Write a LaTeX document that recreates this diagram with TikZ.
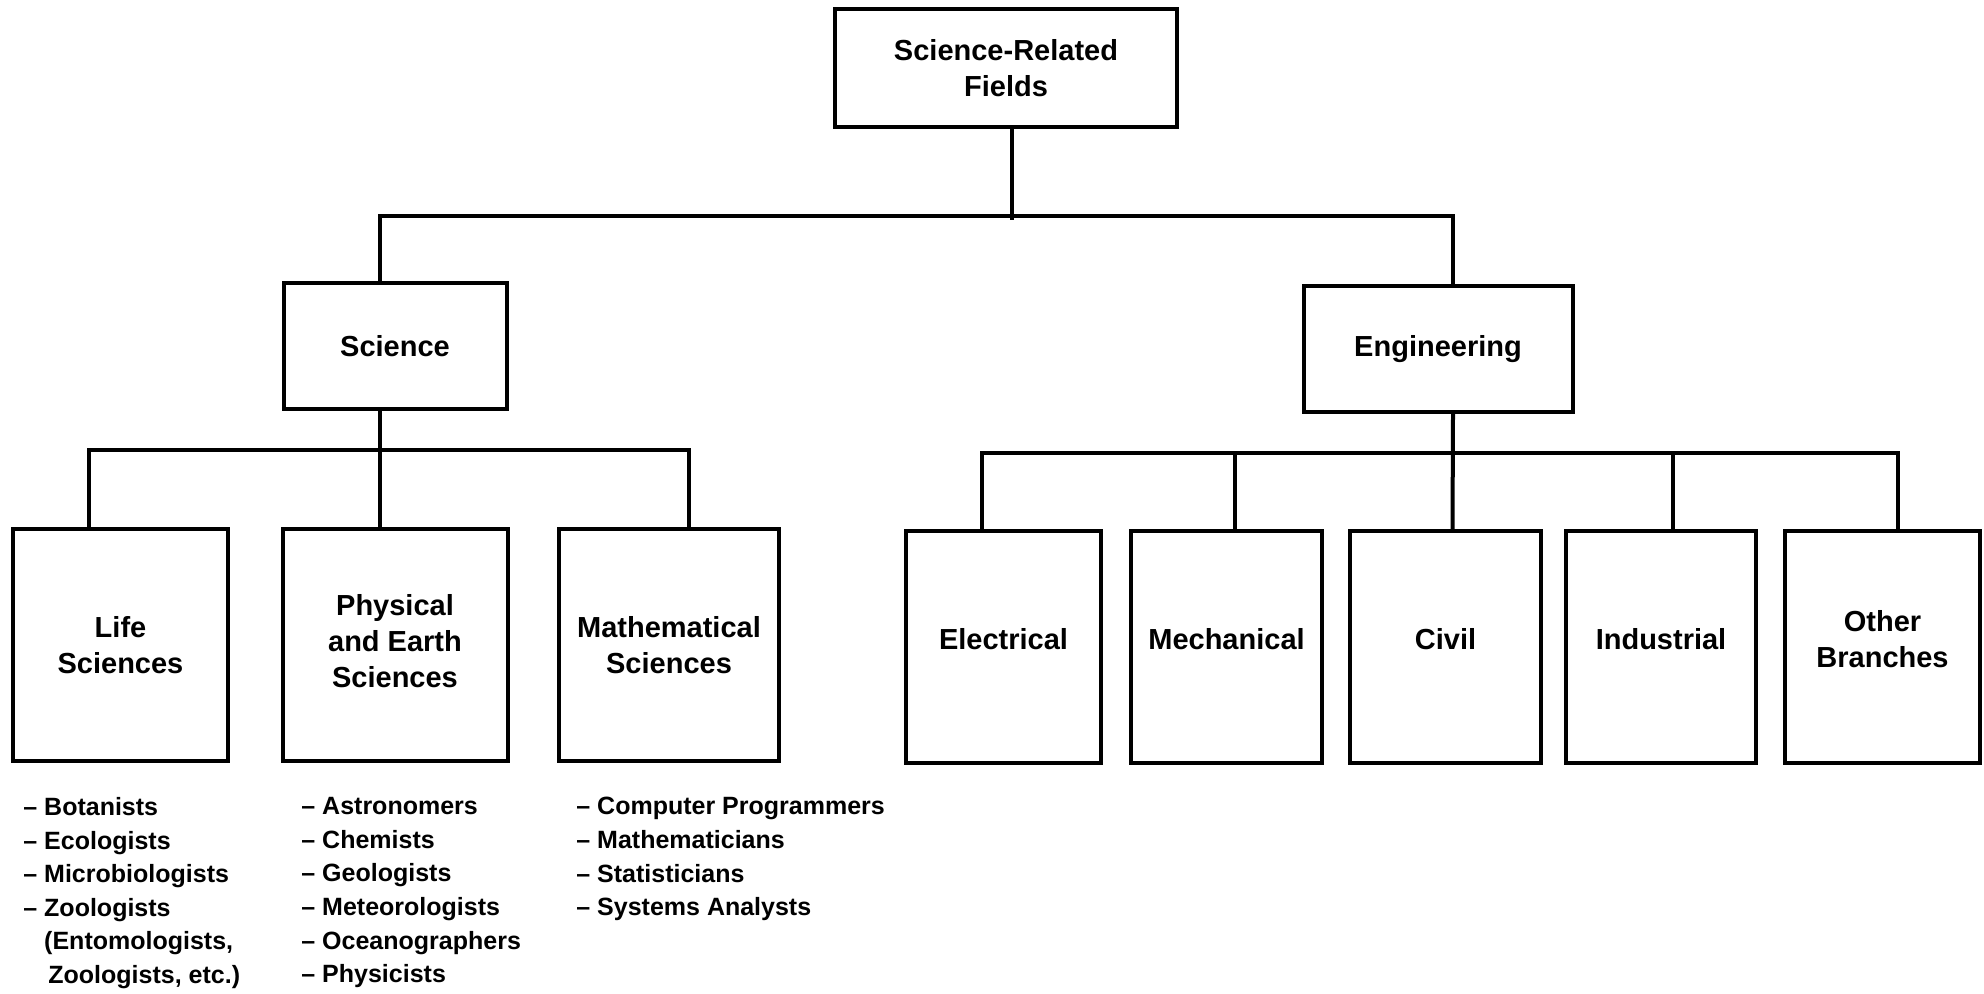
\documentclass[tikz,border=0pt]{standalone}
\usepackage{fontspec}
\setmainfont{Liberation Sans}
\newcommand{\jobdash}{\textendash\ }
\begin{document}
\begin{tikzpicture}[x=0.5pt,y=-0.5pt,
  box/.style={draw,line width=2pt,align=center,inner sep=0pt,font=\bfseries\fontsize{14.5}{18}\selectfont},
  field/.style={box,minimum height=116pt},
  branch/.style={field,text depth=8pt},
  joblist/.style={anchor=north west,align=left,inner sep=0pt,font=\bfseries\fontsize{12.5}{16.8}\selectfont},
  link/.style={line width=2pt}]
\useasboundingbox (0,0) rectangle (1984,994);
% top levels
\node[box,minimum width=171pt,minimum height=59pt] (top) at (1006,68) {Science-Related\\Fields};
\node[box,minimum width=111.5pt,minimum height=63pt] (sci) at (395,346) {Science};
\node[box,minimum width=134.5pt,minimum height=63pt] (eng) at (1438,349) {Engineering};
% science fields
\node[field,minimum width=107.5pt] (life) at (120.5,645) {Life\\Sciences};
\node[field,minimum width=112.5pt,text depth=4pt] (phys) at (395,645) {Physical\\and Earth\\Sciences};
\node[field,minimum width=110pt] (math) at (669,645) {Mathematical\\Sciences};
% engineering fields
\node[branch,minimum width=97.5pt] (elec) at (1003.5,647) {Electrical};
\node[branch,minimum width=95.5pt] (mech) at (1226.5,647) {Mechanical};
\node[branch,minimum width=95.5pt] (civil) at (1445.5,647) {Civil};
\node[branch,minimum width=95pt] (ind) at (1661,647) {Industrial};
\node[branch,minimum width=97.5pt] (other) at (1882.5,647) {Other\\Branches};
% connectors
\draw[link] ([xshift=3pt]top.south) -- ++(0,91);
\draw[link] ([xshift=-7.5pt]sci.north) -- ++(0,-65) -| ([xshift=7.5pt]eng.north);
\draw[link] ([xshift=-7.5pt]sci.south) -- ([xshift=-7.5pt]phys.north);
\draw[link] ([xshift=-16pt]life.north) -- ++(0,-77) -| ([xshift=10pt]math.north);
\draw[link] ([xshift=7.5pt]eng.south) -- ([xshift=3.5pt]civil.north);
\draw[link] ([xshift=-11pt]elec.north) -- ++(0,-76) -| ([xshift=7.5pt]other.north);
\foreach \n/\d in {mech/4pt,ind/6pt}{\draw[link] ([xshift=\d]\n.north) -- ++(0,-76);}
% job lists
\node[joblist] (lifejobs) at (23,797) {\jobdash Botanists\\\jobdash Ecologists\\\jobdash Microbiologists\\\jobdash Zoologists\\\phantom{\jobdash}(Entomologists,\\\phantom{\jobdash}\,Zoologists, etc.)};
\node[joblist] (physjobs) at (301,797) {\jobdash Astronomers\\\jobdash Chemists\\\jobdash Geologists\\\jobdash Meteorologists\\\jobdash Oceanographers\\\jobdash Physicists};
\node[joblist] (mathjobs) at (576,797) {\jobdash Computer Programmers\\\jobdash Mathematicians\\\jobdash Statisticians\\\jobdash Systems Analysts};
\end{tikzpicture}
\end{document}
